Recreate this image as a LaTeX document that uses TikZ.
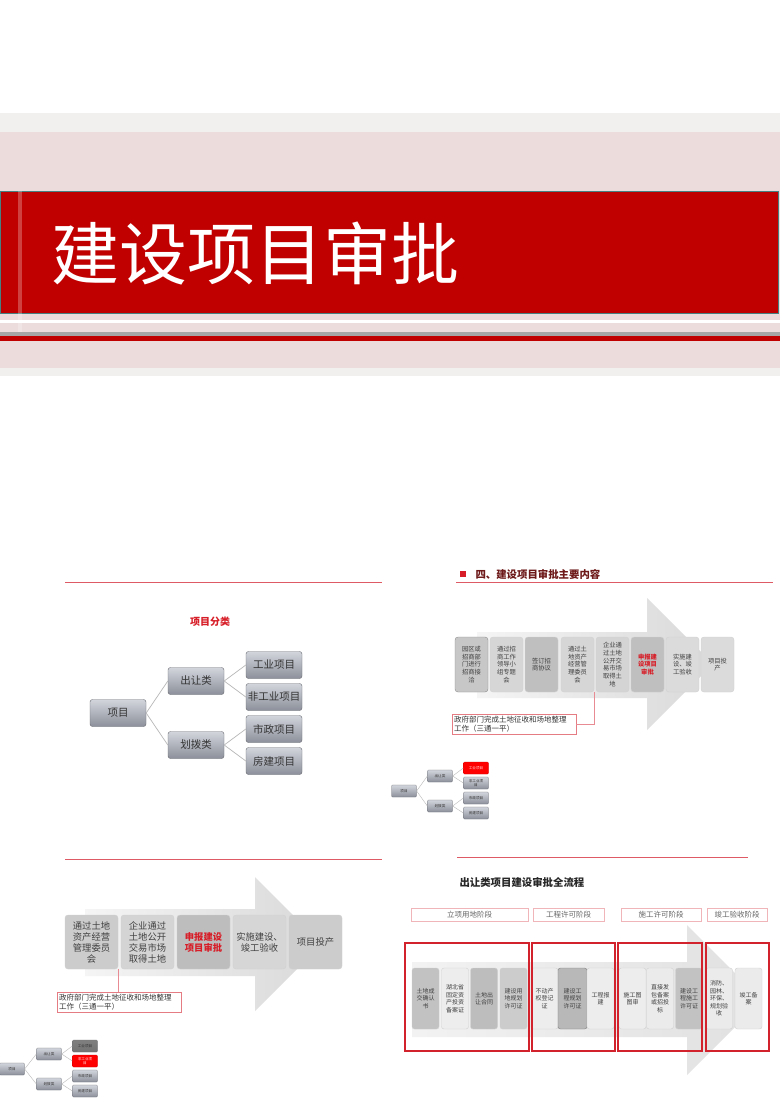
\documentclass[tikz,border=0pt]{standalone}
\usepackage{fontspec}
\setmainfont{Noto Sans CJK SC}

\definecolor{bannerred}{RGB}{192,0,0}
\definecolor{bandpink}{RGB}{237,220,220}
\definecolor{bandgrey}{RGB}{242,239,239}
\definecolor{linered}{RGB}{222,90,100}
\definecolor{framered}{RGB}{210,35,45}
\definecolor{alertred}{RGB}{215,30,40}
\definecolor{headred}{RGB}{110,25,25}
\definecolor{treetop}{RGB}{210,213,220}
\definecolor{treebot}{RGB}{140,144,154}
\definecolor{treeedge}{RGB}{105,107,114}

\begin{document}
\begin{tikzpicture}[x=1pt, y=-1pt,
    treebox/.style={draw=treeedge, rounded corners=2.5pt, top color=treetop, bottom color=treebot,
        minimum width=56pt, minimum height=27pt, inner sep=0pt, text=black!80,
        font=\fontsize{10.5}{12}\selectfont},
    minibox/.style={treebox, rounded corners=1pt, minimum width=25pt, minimum height=12pt,
        align=center, line width=0.3pt, font=\fontsize{3.6}{4}\selectfont},
    treeline/.style={draw=black!28, line width=0.7pt},
    stepbox/.style={draw=black!18, rounded corners=3pt, inner sep=0pt, align=center, text=black!75},
    midstep/.style={stepbox, minimum width=33pt, minimum height=55pt, font=\fontsize{6.3}{7.7}\selectfont},
    bigstep/.style={stepbox, minimum width=53pt, minimum height=54pt, font=\fontsize{9.3}{11}\selectfont},
    flowstep/.style={stepbox, rounded corners=2.5pt, minimum width=27pt, minimum height=61pt,
        font=\fontsize{6}{7.5}\selectfont},
    callout/.style={draw=linered!80, fill=white, anchor=north west, align=left, inner sep=2pt,
        text width=120pt, text=black!80, font=\fontsize{7.5}{9}\selectfont},
    phase/.style={draw=linered!45, fill=white, minimum height=13pt, inner sep=0pt, text=black!60,
        font=\fontsize{7.5}{9}\selectfont},
    groupframe/.style={draw=framered, line width=1.1pt},
    sectionline/.style={draw=linered, line width=0.7pt},
]
    \fill[white] (0,0) rectangle (780,1102);
    \useasboundingbox (0,0) rectangle (780,1102);

    % Header band
    \fill[bandgrey] (0,113) rectangle (780,376);
    \fill[bandpink] (0,132) rectangle (780,368);
    \fill[bannerred] (0,191) rectangle (778,313);
    \draw[teal!45!gray, line width=0.6pt] (0,191) rectangle (778,313);
    \fill[white, opacity=0.25] (18,191) rectangle (22,335);
    \fill[white] (0,320) rectangle (780,323);
    \fill[black!35] (0,332) rectangle (780,336);
    \fill[bannerred] (0,336) rectangle (780,341);
    \node[text=white, font=\fontsize{68}{68}\selectfont] (title) at (255,254) {建设项目审批};

    % Project classification
    \draw[sectionline] (65,582) -- (382,582);
    \node[text=alertred, font=\fontsize{10}{12}\selectfont\bfseries] (cls) at (210,622) {项目分类};
    \node[treebox] (item) at (118,713) {项目};
    \node[treebox] (sell) at (196,681) {出让类};
    \node[treebox] (alloc) at (196,745) {划拨类};
    \node[treebox] (ind) at (274,665) {工业项目};
    \node[treebox] (nonind) at (274,697) {非工业项目};
    \node[treebox] (muni) at (274,729) {市政项目};
    \node[treebox] (house) at (274,761) {房建项目};
    \draw[treeline] (item.east) -- (sell.west);
    \draw[treeline] (item.east) -- (alloc.west);
    \draw[treeline] (sell.east) -- (ind.west);
    \draw[treeline] (sell.east) -- (nonind.west);
    \draw[treeline] (alloc.east) -- (muni.west);
    \draw[treeline] (alloc.east) -- (house.west);

    % Main contents
    \fill[alertred] (460,571) rectangle (466,577);
    \node[anchor=west, text=headred, font=\fontsize{10.4}{12}\selectfont\bfseries] (head4) at (472,574) {四、建设项目审批主要内容};
    \draw[sectionline] (456,582) -- (773,582);
    \shade[left color=black!4, right color=black!15] (477,632) -- (647,632) -- (647,598) -- (713,664)
        -- (647,730) -- (647,698) -- (477,698) -- cycle;
    \node[midstep, fill=black!22, draw=black!45] (mc1) at (471.5,664.5) {园区或\\招商部\\门进行\\招商接\\洽};
    \node[midstep, fill=black!16] (mc2) at (506.5,664.5) {通过招\\商工作\\领导小\\组专题\\会};
    \node[midstep, fill=black!25] (mc3) at (541.5,664.5) {签订招\\商协议};
    \node[midstep, fill=black!16] (mc4) at (577.5,664.5) {通过土\\地资产\\经营管\\理委员\\会};
    \node[midstep, fill=black!17] (mc5) at (612.5,664.5) {企业通\\过土地\\公开交\\易市场\\取得土\\地};
    \node[midstep, fill=black!25, text=alertred, font=\fontsize{6.3}{7.7}\selectfont\bfseries] (mc6) at (647.5,664.5) {申报建\\设项目\\审批};
    \node[midstep, fill=black!14] (mc7) at (682.5,664.5) {实施建\\设、竣\\工验收};
    \node[midstep, fill=black!14] (mc8) at (717.5,664.5) {项目投\\产};
    \node[callout] (gov) at (452,714) {政府部门完成土地征收和场地整理\\工作（三通一平）};
    \draw[linered!70] (mc4.south east) |- (gov.east);

    % small tree, right
    \node[minibox] (ritem) at (404,791) {项目};
    \node[minibox] (rsell) at (440,776) {出让类};
    \node[minibox] (ralloc) at (440,806) {划拨类};
    \node[minibox, top color=red, bottom color=red, draw=red!80!black, text=white!85!red] (rind) at (476,768) {工业项目};
    \node[minibox] (rnonind) at (476,783) {非工业项\\目};
    \node[minibox] (rmuni) at (476,798) {市政项目};
    \node[minibox] (rhouse) at (476,813) {房建项目};
    \draw[treeline, line width=0.4pt] (ritem.east) -- (rsell.west);
    \draw[treeline, line width=0.4pt] (ritem.east) -- (ralloc.west);
    \draw[treeline, line width=0.4pt] (rsell.east) -- (rind.west);
    \draw[treeline, line width=0.4pt] (rsell.east) -- (rnonind.west);
    \draw[treeline, line width=0.4pt] (ralloc.east) -- (rmuni.west);
    \draw[treeline, line width=0.4pt] (ralloc.east) -- (rhouse.west);

    % Granting steps
    \draw[sectionline] (65,859) -- (382,859);
    \shade[left color=black!4, right color=black!15] (85,909) -- (255,909) -- (255,877) -- (322,944)
        -- (255,1011) -- (255,976) -- (85,976) -- cycle;
    \node[bigstep, fill=black!20] (lb1) at (91.5,942) {通过土地\\资产经营\\管理委员\\会};
    \node[bigstep, fill=black!17] (lb2) at (147.5,942) {企业通过\\土地公开\\交易市场\\取得土地};
    \node[bigstep, fill=black!26, text=alertred, font=\fontsize{9.3}{11}\selectfont\bfseries] (lb3) at (203.5,942) {申报建设\\项目审批};
    \node[bigstep, fill=black!16] (lb4) at (259.5,942) {实施建设、\\竣工验收};
    \node[bigstep, fill=black!20] (lb5) at (315.5,942) {项目投产};
    \node[callout] (gov2) at (57,992) {政府部门完成土地征收和场地整理\\工作（三通一平）};
    \draw[linered!70] (lb1.south east) -- (lb1.south east |- gov2.north);

    % small tree, left
    \node[minibox] (litem) at (12,1069) {项目};
    \node[minibox] (lsell) at (49,1054) {出让类};
    \node[minibox] (lalloc) at (49,1084) {划拨类};
    \node[minibox, top color=black!50, bottom color=black!55] (lind) at (85,1046) {工业项目};
    \node[minibox, top color=red, bottom color=red, draw=red!80!black, text=white!85!red] (lnonind) at (85,1061) {非工业项\\目};
    \node[minibox] (lmuni) at (85,1076) {市政项目};
    \node[minibox] (lhouse) at (85,1091) {房建项目};
    \draw[treeline, line width=0.4pt] (litem.east) -- (lsell.west);
    \draw[treeline, line width=0.4pt] (litem.east) -- (lalloc.west);
    \draw[treeline, line width=0.4pt] (lsell.east) -- (lind.west);
    \draw[treeline, line width=0.4pt] (lsell.east) -- (lnonind.west);
    \draw[treeline, line width=0.4pt] (lalloc.east) -- (lmuni.west);
    \draw[treeline, line width=0.4pt] (lalloc.east) -- (lhouse.west);

    % Full approval flow
    \draw[sectionline] (457,857) -- (748,857);
    \node[anchor=west, text=black!85, font=\fontsize{10.4}{12}\selectfont\bfseries] (flowtitle) at (456,882) {出让类项目建设审批全流程};
    \node[phase, minimum width=117pt] (ph1) at (469.5,914.5) {立项用地阶段};
    \node[phase, minimum width=71pt] (ph2) at (568.5,914.5) {工程许可阶段};
    \node[phase, minimum width=80pt] (ph3) at (661,914.5) {施工许可阶段};
    \node[phase, minimum width=60pt] (ph4) at (737,914.5) {竣工验收阶段};
    \shade[left color=black!5, right color=black!12] (412,962) -- (687,962) -- (687,925) -- (762,1000)
        -- (687,1075) -- (687,1037) -- (412,1037) -- cycle;
    \node[flowstep, fill=black!24] (fs1) at (425.5,998.5) {土地成\\交确认\\书};
    \node[flowstep, fill=black!7] (fs2) at (455,998.5) {湖北省\\固定资\\产投资\\备案证};
    \node[flowstep, fill=black!26] (fs3) at (484,998.5) {土地出\\让合同};
    \node[flowstep, fill=black!20] (fs4) at (513.5,998.5) {建设用\\地规划\\许可证};
    \node[flowstep, fill=black!7] (fs5) at (544.5,998.5) {不动产\\权登记\\证};
    \node[flowstep, fill=black!28, draw=black!50, minimum width=29pt] (fs6) at (572.5,998.5) {建设工\\程规划\\许可证};
    \node[flowstep, fill=black!7] (fs7) at (600.5,998.5) {工程报\\建};
    \node[flowstep, fill=black!7] (fs8) at (632.5,998.5) {施工图\\图审};
    \node[flowstep, fill=black!8] (fs9) at (660,998.5) {直接发\\包备案\\或招投\\标};
    \node[flowstep, fill=black!24] (fs10) at (689,998.5) {建设工\\程施工\\许可证};
    \node[flowstep, fill=black!8] (fs11) at (719,998.5) {消防、\\园林、\\环保、\\规划验\\收};
    \node[flowstep, fill=black!8] (fs12) at (748.5,998.5) {竣工备\\案};
    \draw[groupframe] (405,943) rectangle (529,1051);
    \draw[groupframe] (532,943) rectangle (615,1051);
    \draw[groupframe] (618,943) rectangle (702,1051);
    \draw[groupframe] (706,943) rectangle (769,1051);

\end{tikzpicture}
\end{document}
